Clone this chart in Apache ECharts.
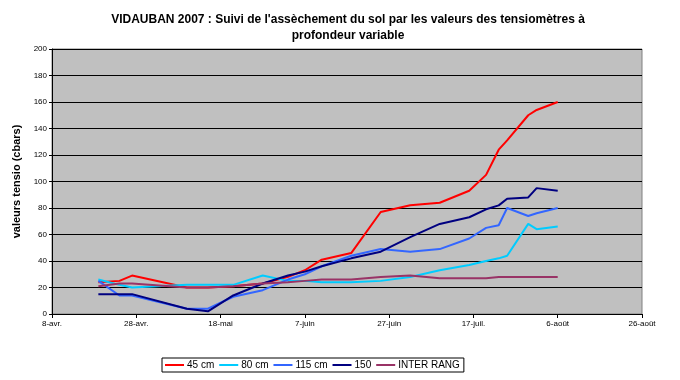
<!DOCTYPE html>
<html>
<head>
<meta charset="utf-8">
<script src="https://cdn.jsdelivr.net/npm/echarts@6/dist/echarts.min.js"></script>
<style>html,body{margin:0;padding:0;background:#fff;}#c{width:680px;height:380px;}</style>
</head>
<body>
<div id="c"></div>
<script>
var startDate = '2007-04-08';
var tickLabels = ['8-avr.', '28-avr.', '18-mai', '7-juin', '27-juin', '17-juil.', '6-août', '26-août'];
var dates = ['2007-04-19','2007-04-24','2007-04-27','2007-05-10','2007-05-15','2007-05-21','2007-05-28',
  '2007-06-03','2007-06-07','2007-06-11','2007-06-18','2007-06-25','2007-07-02','2007-07-09',
  '2007-07-16','2007-07-20','2007-07-23','2007-07-25','2007-07-30','2007-08-01','2007-08-06'];
var s45  = [24, 25, 29, 20, 20, 21, 23, 28, 33, 41, 46, 77, 82, 84, 93, 105, 124, 131, 150, 154, 160];
var s80  = [26, 22, 20, 22, 22, 22, 29, 25, 25, 24, 24, 25, 28, 33, 37, 40, 42, 44, 68, 64, 66];
var s115 = [25, 14, 14, 4, 4, 13, 18, 26, 30, 36, 44, 49, 47, 49, 57, 65, 67, 80, 74, 76, 80];
var s150 = [15, 15, 15, 4, 2, 14, 23, 29, 32, 36, 42, 47, 58, 68, 73, 79, 82, 87, 88, 95, 93];
var sInter = [21, 23, 23, 20, 20, 21, 23, 24, 25, 26, 26, 28, 29, 27, 27, 27, 28, 28, 28, 28, 28];
var seriesNames = ['45 cm', '80 cm', '115 cm', '150', 'INTER RANG'];
var seriesColors = ['#FF0000', '#00CCFF', '#3366FF', '#000080', '#993366'];
var seriesValues = [s45, s80, s115, s150, sInter];

function dayOffset(d) {
  var a = startDate.split('-'), b = d.split('-');
  return (Date.UTC(+b[0], +b[1] - 1, +b[2]) - Date.UTC(+a[0], +a[1] - 1, +a[2])) / 86400000;
}
var xs = dates.map(dayOffset);

var series = seriesNames.map(function (n, i) {
  return {
    name: n, type: 'line', symbol: 'none', showSymbol: false,
    data: xs.map(function (x, j) { return [x, seriesValues[i][j]]; }),
    lineStyle: { color: seriesColors[i], width: 2 },
    itemStyle: { color: seriesColors[i] },
    animation: false
  };
});

var chart = echarts.init(document.getElementById('c'), null, { renderer: 'canvas' });
chart.setOption({
  backgroundColor: '#FFFFFF',
  animation: false,
  title: {
    text: "VIDAUBAN 2007 : Suivi de l'assèchement du sol par les valeurs des tensiomètres à\nprofondeur variable",
    left: 343, top: 7, textAlign: 'center',
    textStyle: { fontFamily: 'Liberation Sans', fontSize: 12, fontWeight: 'bold', color: '#000', lineHeight: 16 }
  },
  legend: {
    data: seriesNames,
    left: 162, top: 358,
    orient: 'horizontal',
    padding: [2, 4, 2, 3],
    borderColor: '#000', borderWidth: 1, borderRadius: 0,
    itemWidth: 19, itemHeight: 2, itemGap: 5,
    icon: 'rect',
    textStyle: { fontFamily: 'Liberation Sans', fontSize: 10, color: '#000', padding: [0, 0, 0, -2] }
  },
  grid: {
    left: 52, right: 38, top: 49, bottom: 66,
    show: true, backgroundColor: '#C0C0C0', borderColor: '#808080', borderWidth: 1
  },
  xAxis: {
    type: 'value', min: 0, max: 140, interval: 20,
    axisLine: { show: true, lineStyle: { color: '#000', width: 1 } },
    axisTick: { show: true, inside: false, length: 4, lineStyle: { color: '#000' } },
    splitLine: { show: false },
    axisLabel: {
      fontFamily: 'Liberation Sans', fontSize: 8, color: '#000', margin: 6,
      formatter: function (v) { return tickLabels[Math.round(v / 20)] || ''; }
    }
  },
  yAxis: {
    type: 'value', min: 0, max: 200, interval: 20,
    name: 'valeurs tensio (cbars)', nameLocation: 'middle', nameGap: 27,
    nameTextStyle: { fontFamily: 'Liberation Sans', fontSize: 11, fontWeight: 'bold', color: '#000' },
    axisLine: { show: true, lineStyle: { color: '#000', width: 1 } },
    axisTick: { show: true, inside: false, length: 3, lineStyle: { color: '#000' } },
    splitLine: { show: true, lineStyle: { color: '#000', width: 1 } },
    axisLabel: { fontFamily: 'Liberation Sans', fontSize: 8, color: '#000', margin: 5 }
  },
  series: series
});
</script>
</body>
</html>
